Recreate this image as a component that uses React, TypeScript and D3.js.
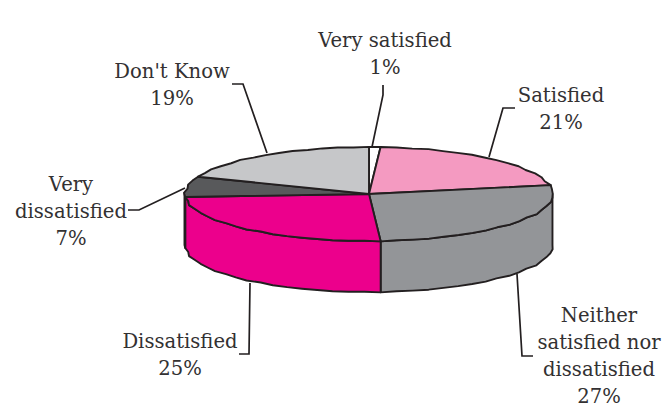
import React from "react";
import * as d3 from "d3";

// Survey responses, in clockwise order from twelve o'clock
const categories = ["Very satisfied", "Satisfied", "Neither satisfied nor dissatisfied", "Dissatisfied", "Very dissatisfied", "Don't Know"];
const values = [1, 21, 27, 25, 7, 19];
const sliceColors = ["#ffffff", "#f49ac1", "#939598", "#ec008c", "#58595b", "#c6c7c9"];

// Text lines per slice (the wrapped name, then the percentage)
const labelLines = [
  ["Very satisfied"],
  ["Satisfied"],
  ["Neither", "satisfied nor", "dissatisfied"],
  ["Dissatisfied"],
  ["Very", "dissatisfied"],
  ["Don't Know"],
];

const WIDTH = 668;
const HEIGHT = 406;
const CX = 369;
const CY = 194;
const RX = 184;
const RY = 47;
const DEPTH = 51;
const INK = "#231f20";
const TEXT = "#333132";
const LINE_HEIGHT = 27;

// Where each label block sits and how its leader line runs
const labelLayout = [
  { x: 385, y: 47, leader: [[383, 85], [383, 95], [372, 147]] },
  { x: 561, y: 102, leader: [[515, 108], [503, 108], [489, 157]] },
  { x: 599, y: 322, leader: [[533, 356], [522, 356], [517, 274]] },
  { x: 180, y: 348, leader: [[239, 354], [249, 354], [250, 283]] },
  { x: 71, y: 191, leader: [[128, 210], [139, 210], [185, 188]] },
  { x: 172, y: 78, leader: [[232, 84], [243, 84], [267, 153]] },
];

const x = d3.scaleLinear().domain([-1, 1]).range([CX - RX, CX + RX]);
const y = d3.scaleLinear().domain([-1, 1]).range([CY - RY, CY + RY]);

// A hand-traced rim: the ellipse is walked in short straight pieces with a slight ripple
const ripple = (a: number) => 0.005 * Math.sin(a * 23) + 0.004 * Math.sin(a * 41 + 1);

const rimPoint = (a: number, drop = 0): [number, number] => {
  const r = 1 + ripple(a);
  return [x(r * Math.sin(a)), y(-r * Math.cos(a)) + drop];
};

const rimArc = (a0: number, a1: number, drop = 0): [number, number][] => {
  const n = Math.max(1, Math.ceil(Math.abs(a1 - a0) / 0.09));
  return d3.range(n + 1).map((i) => rimPoint(a0 + ((a1 - a0) * i) / n, drop));
};

const line = d3.line();

const pieLayout = d3.pie<number>().sort(null).value((d) => d);
const slices = pieLayout(values);

export default function App() {
  // Only the part of the outer wall facing the viewer is visible (from 90° to 270°)
  const walls = slices
    .map((s, i) => {
      const a0 = Math.max(s.startAngle, Math.PI / 2);
      const a1 = Math.min(s.endAngle, (3 * Math.PI) / 2);
      if (a1 <= a0) return null;
      const pts = [...rimArc(a0, a1), ...rimArc(a1, a0, DEPTH)];
      return <path key={i} d={line(pts) + "Z"} fill={sliceColors[i]} stroke={INK} strokeWidth={1.9} strokeLinejoin="round" />;
    })
    .filter(Boolean);

  const tops = slices.map((s, i) => {
    const pts: [number, number][] = [[CX, CY], ...rimArc(s.startAngle, s.endAngle)];
    return <path key={i} d={line(pts) + "Z"} fill={sliceColors[i]} stroke={INK} strokeWidth={1.9} strokeLinejoin="round" />;
  });

  return (
    <svg
      width={WIDTH}
      height={HEIGHT}
      viewBox={`0 0 ${WIDTH} ${HEIGHT}`}
      style={{ position: "absolute", left: 0, top: 0, background: "#fff" }}
    >
      {labelLayout.map((l, i) => (
        <path key={i} d={line(l.leader as [number, number][]) as string} fill="none" stroke={INK} strokeWidth={1.7} />
      ))}
      <g>{walls}</g>
      <g>{tops}</g>
      <g fontFamily="'DejaVu Serif', serif" fontSize={19.6} fill={TEXT} textAnchor="middle">
        {categories.map((c, i) => {
          const lines = [...labelLines[i], `${values[i]}%`];
          return (
            <text key={c} aria-label={c}>
              {lines.map((t, j) => (
                <tspan key={j} x={labelLayout[i].x} y={labelLayout[i].y + j * LINE_HEIGHT}>
                  {t}
                </tspan>
              ))}
            </text>
          );
        })}
      </g>
    </svg>
  );
}
